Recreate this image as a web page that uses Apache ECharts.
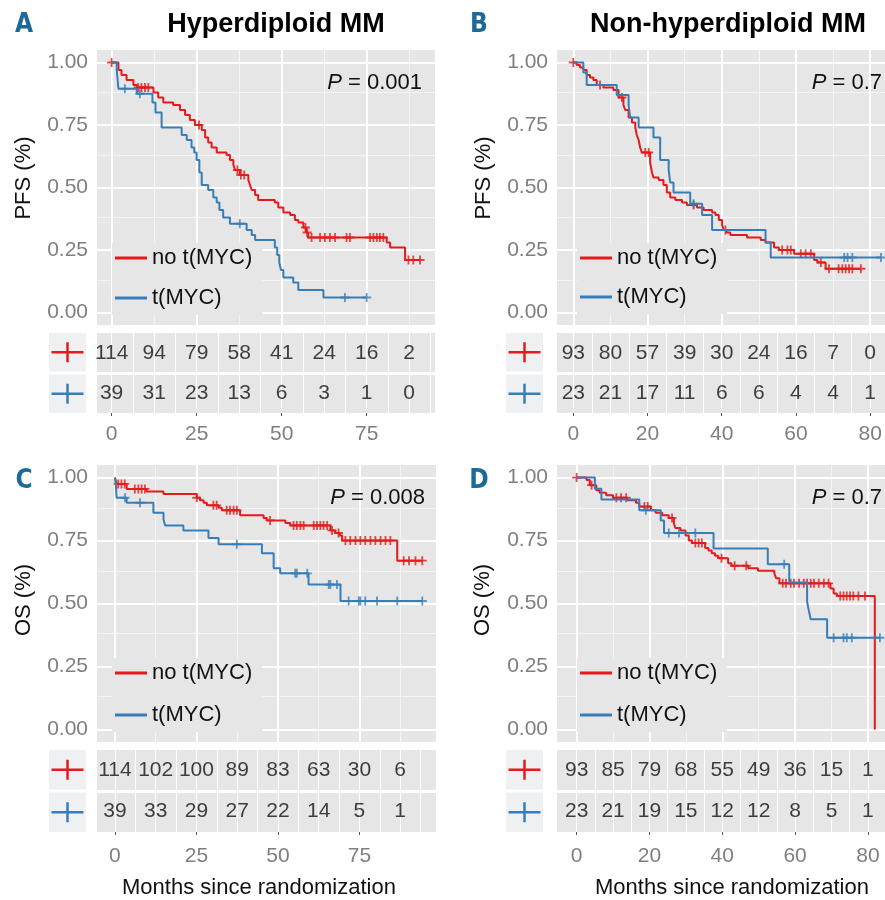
<!DOCTYPE html>
<html>
<head>
<meta charset="utf-8">
<script src="https://cdn.jsdelivr.net/npm/echarts@6/dist/echarts.min.js"></script>
<style>
html,body{margin:0;padding:0;background:#fff}
#main{width:885px;height:900px}
</style>
</head>
<body>
<div id="main"></div>
<script>
// ---------- data ----------
var groupNames = ['no t(MYC)', 't(MYC)'];
var pValues = ['0.001', '0.7', '0.008', '0.7'];
var xTicksLeft = [0, 25, 50, 75];
var xTicksRight = [0, 20, 40, 60, 80];
var yTicks = [0, 0.25, 0.5, 0.75, 1];

// A: PFS, hyperdiploid
var pfsHypNoT = [0, 2.0, 2.9, 4.4, 6.4, 7.4, 12.3, 13.7, 15.2, 18.1, 20.1, 21.6, 23.0, 24.5, 26.5, 27.5, 28.4, 29.4, 30.9, 33.8, 34.8, 35.8, 36.3, 37.7, 40.2, 40.7, 41.2, 42.2, 43.1, 48.0, 49.0, 50.5, 52.5, 53.9, 54.9, 56.4, 57.2, 57.8, 80.9, 81.9, 86.3];
var pfsHypNoS = [1, 0.97, 0.95, 0.93, 0.91, 0.90, 0.88, 0.86, 0.84, 0.83, 0.81, 0.79, 0.77, 0.75, 0.73, 0.70, 0.68, 0.66, 0.64, 0.63, 0.61, 0.59, 0.57, 0.55, 0.53, 0.51, 0.49, 0.47, 0.45, 0.44, 0.42, 0.40, 0.39, 0.37, 0.36, 0.34, 0.32, 0.30, 0.28, 0.26, 0.21];
var pfsHypNoC = [0, 7.8, 8.8, 9.8, 10.8, 25.7, 37.0, 38.0, 39.0, 57.0, 57.5, 58.8, 61.3, 62.7, 64.2, 65.7, 69.1, 70.1, 76.0, 77.0, 78.0, 78.9, 79.9, 87.3, 88.7, 90.7];
var pfsHypMycT = [0, 1.5, 2.0, 7.4, 12.0, 12.9, 14.7, 20.6, 22.1, 23.5, 24.3, 25.0, 25.8, 26.5, 28.4, 29.9, 30.9, 31.7, 32.8, 34.8, 39.7, 41.2, 42.2, 48.0, 48.7, 49.3, 49.8, 50.5, 53.4, 54.9, 62.3];
var pfsHypMycS = [1, 0.97, 0.895, 0.875, 0.84, 0.80, 0.74, 0.71, 0.69, 0.66, 0.64, 0.61, 0.56, 0.51, 0.49, 0.46, 0.44, 0.41, 0.38, 0.355, 0.33, 0.31, 0.29, 0.26, 0.23, 0.20, 0.17, 0.14, 0.12, 0.09, 0.06];
var pfsHypMycC = [3.9, 8.3, 37.7, 68.6, 75.0];

// B: PFS, non-hyperdiploid
var pfsNonNoT = [0, 0.9, 1.8, 2.7, 3.6, 4.5, 5.4, 6.3, 8.1, 10.8, 12.2, 13.5, 14.0, 14.9, 15.8, 16.7, 17.1, 17.6, 18.0, 18.5, 20.7, 21.2, 21.6, 23.0, 24.3, 25.2, 26.1, 27.5, 29.3, 30.6, 33.3, 35.1, 37.4, 38.3, 39.2, 40.1, 40.5, 41.3, 42.3, 46.8, 50.5, 51.8, 54.1, 55.4, 59.5, 64.9, 65.8, 68.0];
var pfsNonNoS = [1, 0.99, 0.98, 0.97, 0.95, 0.94, 0.93, 0.91, 0.90, 0.89, 0.86, 0.83, 0.81, 0.78, 0.76, 0.74, 0.71, 0.69, 0.66, 0.64, 0.60, 0.56, 0.54, 0.53, 0.51, 0.48, 0.46, 0.45, 0.44, 0.43, 0.42, 0.41, 0.40, 0.39, 0.37, 0.35, 0.33, 0.32, 0.31, 0.30, 0.29, 0.28, 0.26, 0.25, 0.235, 0.21, 0.20, 0.175];
var pfsNonNoC = [0, 7.2, 13.1, 19.4, 20.3, 32.4, 41.0, 56.3, 57.7, 58.6, 61.3, 62.6, 64.0, 66.7, 68.9, 71.5, 72.5, 73.4, 74.3, 75.2, 77.5];
var pfsNonMycT = [0, 2.7, 3.6, 11.7, 14.9, 15.3, 17.6, 21.6, 23.4, 25.7, 26.1, 27.0, 31.5, 34.7, 37.4, 51.8, 53.2];
var pfsNonMycS = [1, 0.96, 0.91, 0.87, 0.83, 0.78, 0.74, 0.70, 0.61, 0.57, 0.52, 0.48, 0.435, 0.39, 0.33, 0.28, 0.22];
var pfsNonMycC = [32.4, 73.0, 73.9, 75.2, 82.9];

// C: OS, hyperdiploid
var osHypNoT = [0, 0.5, 3.6, 9.7, 14.9, 25.1, 26.1, 27.2, 28.2, 31.8, 32.8, 38.4, 45.6, 46.6, 52.3, 53.8, 66.1, 67.6, 69.0, 69.7, 86.6];
var osHypNoS = [1, 0.975, 0.955, 0.945, 0.935, 0.92, 0.91, 0.90, 0.89, 0.88, 0.87, 0.85, 0.84, 0.83, 0.82, 0.81, 0.79, 0.78, 0.77, 0.75, 0.67];
var osHypNoC = [1.0, 2.0, 3.0, 6.1, 7.2, 8.2, 9.2, 25.1, 30.2, 31.2, 34.3, 35.3, 36.4, 37.4, 47.6, 54.8, 55.8, 56.9, 57.9, 61.0, 62.0, 63.0, 64.0, 65.1, 66.6, 68.6, 70.7, 72.2, 73.8, 75.3, 76.8, 78.4, 79.9, 81.5, 83.0, 84.5, 88.6, 90.2, 92.2, 94.3];
var osHypMycT = [0, 0.3, 0.5, 3.6, 11.8, 14.9, 15.4, 21.0, 28.7, 31.8, 45.1, 48.7, 50.7, 59.4, 69.2];
var osHypMycS = [1, 0.97, 0.92, 0.90, 0.86, 0.835, 0.81, 0.79, 0.76, 0.735, 0.70, 0.64, 0.62, 0.575, 0.51];
var osHypMycC = [3.1, 7.7, 37.4, 55.3, 55.8, 59.0, 65.6, 66.1, 68.1, 71.7, 74.8, 75.3, 76.8, 80.4, 86.6, 94.3];

// D: OS, non-hyperdiploid
var osNonNoT = [0, 2.7, 3.6, 5.4, 6.3, 8.1, 10.0, 14.0, 16.3, 17.2, 20.4, 21.7, 23.5, 25.3, 26.7, 27.1, 28.5, 29.9, 30.8, 31.7, 35.3, 36.2, 37.1, 38.0, 38.9, 41.6, 42.5, 47.1, 49.8, 54.3, 54.8, 55.7, 69.7, 70.6, 71.5, 81.9];
var osNonNoS = [1, 0.99, 0.97, 0.95, 0.94, 0.93, 0.92, 0.91, 0.90, 0.885, 0.87, 0.86, 0.85, 0.84, 0.82, 0.80, 0.79, 0.77, 0.75, 0.74, 0.72, 0.71, 0.70, 0.69, 0.68, 0.66, 0.65, 0.64, 0.63, 0.62, 0.60, 0.58, 0.56, 0.54, 0.53, 0];
var osNonNoC = [0, 4.1, 10.9, 12.2, 13.6, 18.6, 19.5, 26.2, 32.6, 33.5, 34.4, 39.8, 43.4, 46.6, 56.6, 57.5, 58.8, 59.7, 61.1, 62.4, 63.3, 64.3, 65.2, 66.5, 67.9, 69.2, 72.4, 73.3, 74.2, 75.1, 76.0, 77.4, 79.2];
var osNonMycT = [0, 5.0, 6.8, 17.2, 23.1, 24.0, 37.6, 52.5, 58.4, 63.3, 63.8, 64.3, 68.8];
var osNonMycS = [1, 0.956, 0.913, 0.87, 0.83, 0.78, 0.718, 0.656, 0.583, 0.507, 0.47, 0.437, 0.364];
var osNonMycC = [19.0, 25.3, 28.1, 32.6, 57.0, 70.6, 73.3, 74.2, 75.6, 83.3];

// numbers at risk
var riskTimesLeft = [0, 12.5, 25, 37.5, 50, 62.5, 75, 87.5];
var riskTimesRight = [0, 10, 20, 30, 40, 50, 60, 70, 80];
var riskPfsHypNo = [114, 94, 79, 58, 41, 24, 16, 2];
var riskPfsHypMyc = [39, 31, 23, 13, 6, 3, 1, 0];
var riskPfsNonNo = [93, 80, 57, 39, 30, 24, 16, 7, 0];
var riskPfsNonMyc = [23, 21, 17, 11, 6, 6, 4, 4, 1];
var riskOsHypNo = [114, 102, 100, 89, 83, 63, 30, 6];
var riskOsHypMyc = [39, 33, 29, 27, 22, 14, 5, 1];
var riskOsNonNo = [93, 85, 79, 68, 55, 49, 36, 15, 1];
var riskOsNonMyc = [23, 21, 19, 15, 12, 12, 8, 5, 1];

// ---------- layout ----------
var RED = '#e41a1c', BLUE = '#377eb8';
var FONT = '"Liberation Sans", Arial, sans-serif';
var PANEL_BG = '#e6e6e6';
var plusPath = 'path://M4,0H6V4H10V6H6V10H4V6H0V4H4Z';

var panels = [
  {plot: [97, 50, 338, 275], table: [97, 333, 338, 80], xr: [-4.3, 95.1], major: 25, tstep: 6.25,
   ticks: xTicksLeft, riskT: riskTimesLeft, risk: [riskPfsHypNo, riskPfsHypMyc], labMargin: 11,
   curves: [[pfsHypNoT, pfsHypNoS, pfsHypNoC], [pfsHypMycT, pfsHypMycS, pfsHypMycC]],
   leg: [112, 243, 18], box: 49, p: [422, 83]},
  {plot: [557, 50, 328, 275], table: [557, 333, 328, 80], xr: [-4.4, 84.0], major: 20, tstep: 5,
   ticks: xTicksRight, riskT: riskTimesRight, risk: [riskPfsNonNo, riskPfsNonMyc], labMargin: 11,
   curves: [[pfsNonNoT, pfsNonNoS, pfsNonNoC], [pfsNonMycT, pfsNonMycS, pfsNonMycC]],
   leg: [577, 243, 17], box: 506, p: [882, 83]},
  {plot: [97, 465, 339, 277], table: [97, 750, 339, 82], xr: [-5.5, 98.5], major: 25, tstep: 6.25,
   ticks: xTicksLeft, riskT: riskTimesLeft, risk: [riskOsHypNo, riskOsHypMyc], labMargin: 14,
   curves: [[osHypNoT, osHypNoS, osHypNoC], [osHypMycT, osHypMycS, osHypMycC]],
   leg: [112, 658, 20], box: 49, p: [425, 498]},
  {plot: [557, 465, 328, 277], table: [557, 750, 328, 82], xr: [-5.4, 84.7], major: 20, tstep: 5,
   ticks: xTicksRight, riskT: riskTimesRight, risk: [riskOsNonNo, riskOsNonMyc], labMargin: 14,
   curves: [[osNonNoT, osNonNoS, osNonNoC], [osNonMycT, osNonMycS, osNonMycC]],
   leg: [577, 658, 20], box: 506, p: [882, 498]}
];

function seq(from, to, step) {
  var a = [];
  for (var v = from; v <= to + 1e-9; v += step) a.push(+v.toFixed(4));
  return a;
}
// survival in effect at time t (last step at or before t)
function survAt(times, surv, t) {
  var s = surv[0];
  for (var i = 0; i < times.length; i++) if (times[i] <= t) s = surv[i];
  return s;
}
function lineGrid(xi, yi, xs, ys, color, width) {
  var d = xs.map(function (v) { return {xAxis: v}; }).concat(ys.map(function (v) { return {yAxis: v}; }));
  return {
    type: 'line', xAxisIndex: xi, yAxisIndex: yi, data: [], silent: true, z: 1,
    markLine: {silent: true, z: 1, symbol: ['none', 'none'], label: {show: false}, animation: false,
      lineStyle: {color: color, width: width, type: 'solid'}, emphasis: {disabled: true}, data: d}
  };
}

var grid = [], xAxis = [], yAxis = [], series = [], legend = [], graphic = [];

panels.forEach(function (pn, k) {
  var gi = 2 * k, ti = 2 * k + 1;
  grid.push({left: pn.plot[0], top: pn.plot[1], width: pn.plot[2], height: pn.plot[3],
    show: true, backgroundColor: PANEL_BG, borderWidth: 0});
  grid.push({left: pn.table[0], top: pn.table[1], width: pn.table[2], height: pn.table[3],
    show: true, backgroundColor: PANEL_BG, borderWidth: 0});

  xAxis.push({type: 'value', gridIndex: gi, min: pn.xr[0], max: pn.xr[1],
    axisLine: {show: false}, axisTick: {show: false}, axisLabel: {show: false}, splitLine: {show: false}});
  xAxis.push({type: 'value', gridIndex: ti, min: pn.xr[0], max: pn.xr[1], position: 'bottom',
    axisLine: {show: false}, splitLine: {show: false},
    axisTick: {show: true, customValues: pn.ticks, length: 3, lineStyle: {color: '#555', width: 1}},
    axisLabel: {customValues: pn.ticks, color: '#7f7f7f', fontSize: 21, fontFamily: FONT, margin: pn.labMargin}});

  yAxis.push({type: 'value', gridIndex: gi, min: -0.05, max: 1.05,
    axisLine: {show: false}, splitLine: {show: false},
    axisTick: {show: true, customValues: yTicks, length: 3, lineStyle: {color: '#555', width: 1}},
    axisLabel: {customValues: yTicks, color: '#7f7f7f', fontSize: 21, fontFamily: FONT, margin: 9,
      formatter: function (v) { return Number(v).toFixed(2); }}});
  yAxis.push({type: 'value', gridIndex: ti, min: 0, max: 2, show: false});

  // panel grid lines
  series.push(lineGrid(gi, gi, seq(pn.major / 2, pn.xr[1], pn.major), [0.125, 0.375, 0.625, 0.875], '#f4f4f4', 1));
  series.push(lineGrid(gi, gi, seq(0, pn.xr[1], pn.major), yTicks, '#ffffff', 2));
  series.push(lineGrid(ti, ti, seq(0, pn.xr[1], pn.tstep), [], '#ffffff', 1));
  series.push(lineGrid(ti, ti, [], [1], '#ffffff', 3));

  // survival curves + censor marks
  pn.curves.forEach(function (c, g) {
    var col = g === 0 ? RED : BLUE;
    var t = c[0], s = c[1], cens = c[2];
    var pts = t.map(function (v, i) { return [v, s[i]]; });
    var lastC = cens.length ? cens[cens.length - 1] : 0;
    if (lastC > t[t.length - 1]) pts.push([lastC, s[s.length - 1]]);
    series.push({type: 'line', name: groupNames[g], xAxisIndex: gi, yAxisIndex: gi, data: pts,
      step: 'end', showSymbol: false, symbol: 'none', silent: true, z: 3 + g,
      lineStyle: {color: col, width: 2}, itemStyle: {color: col}});
    series.push({type: 'scatter', name: groupNames[g] + ' censored', xAxisIndex: gi, yAxisIndex: gi,
      data: cens.map(function (v) { return [v, survAt(t, s, v)]; }),
      symbol: plusPath, symbolSize: 9, silent: true, z: 3 + g, itemStyle: {color: col}});
    // numbers at risk
    series.push({type: 'scatter', xAxisIndex: ti, yAxisIndex: ti, silent: true, z: 5,
      data: pn.riskT.map(function (v, i) { return [v, g === 0 ? 1.5 : 0.5, pn.risk[g][i]]; }),
      symbolSize: 1, itemStyle: {color: 'rgba(0,0,0,0)'},
      label: {show: true, position: 'inside', color: '#111', fontSize: 21, fontFamily: FONT,
        formatter: function (p) { return String(p.value[2]); }}});
  });

  legend.push({left: pn.leg[0], top: pn.leg[1], orient: 'vertical', padding: [4, 10, 6, 3], itemGap: pn.leg[2],
    itemWidth: 32, itemHeight: 3, icon: 'rect', selectedMode: false, data: groupNames, z: 6,
    backgroundColor: PANEL_BG,
    textStyle: {fontSize: 22, color: '#111', fontFamily: FONT}});

  // risk table legend keys
  [0, 1].forEach(function (g) {
    var top = g === 0 ? pn.table[1] : pn.table[1] + pn.table[3] / 2 + 1.5;
    var h = pn.table[3] / 2 - 1.5;
    var cy = top + h / 2, cx = pn.box + 18.5;
    var col = g === 0 ? RED : BLUE;
    graphic.push({type: 'rect', shape: {x: pn.box, y: top, width: 37, height: h}, style: {fill: '#eef0f2'}, silent: true});
    graphic.push({type: 'line', shape: {x1: cx - 16, y1: cy, x2: cx + 16, y2: cy}, style: {stroke: col, lineWidth: 2.5}, silent: true});
    graphic.push({type: 'line', shape: {x1: cx, y1: cy - 10, x2: cx, y2: cy + 10}, style: {stroke: col, lineWidth: 2.5}, silent: true});
  });

  graphic.push({type: 'text', x: pn.p[0], y: pn.p[1], silent: true, z: 10,
    style: {text: '{i|P} = ' + pValues[k], fontSize: 22, fontFamily: FONT, fill: '#111',
      align: 'right', verticalAlign: 'middle', textAlign: 'right', textVerticalAlign: 'middle',
      rich: {i: {fontStyle: 'italic', fontSize: 22, fontFamily: FONT, fill: '#111'}}}});
});

function txt(x, y, s, font, color, rot) {
  return {type: 'text', x: x, y: y, rotation: rot || 0, silent: true, z: 10,
    style: {text: s, font: font, fill: color, align: 'center', verticalAlign: 'middle',
      textAlign: 'center', textVerticalAlign: 'middle'}};
}
var letterFont = 'bold 26px "Liberation Sans Narrow", "DejaVu Sans Condensed", sans-serif';
var titleFont = 'bold 27px ' + FONT;
var axFont = '22px ' + FONT;
graphic.push(
  txt(24, 25, 'A', letterFont, '#1d6a96'),
  txt(479, 25, 'B', letterFont, '#1d6a96'),
  txt(24, 481, 'C', letterFont, '#1d6a96'),
  txt(479, 481, 'D', letterFont, '#1d6a96'),
  txt(276, 25, 'Hyperdiploid MM', titleFont, '#000'),
  txt(728, 25, 'Non-hyperdiploid MM', titleFont, '#000'),
  txt(24, 178, 'PFS (%)', axFont, '#111', Math.PI / 2),
  txt(484, 178, 'PFS (%)', axFont, '#111', Math.PI / 2),
  txt(24, 600, 'OS (%)', axFont, '#111', Math.PI / 2),
  txt(483, 600, 'OS (%)', axFont, '#111', Math.PI / 2),
  txt(259, 888, 'Months since randomization', axFont, '#111'),
  txt(732, 888, 'Months since randomization', axFont, '#111')
);

var myChart = echarts.init(document.getElementById('main'), null, {renderer: 'canvas'});
myChart.setOption({
  animation: false,
  backgroundColor: '#ffffff',
  textStyle: {fontFamily: FONT},
  grid: grid,
  xAxis: xAxis,
  yAxis: yAxis,
  legend: legend,
  series: series,
  graphic: {elements: graphic}
});
</script>
</body>
</html>
